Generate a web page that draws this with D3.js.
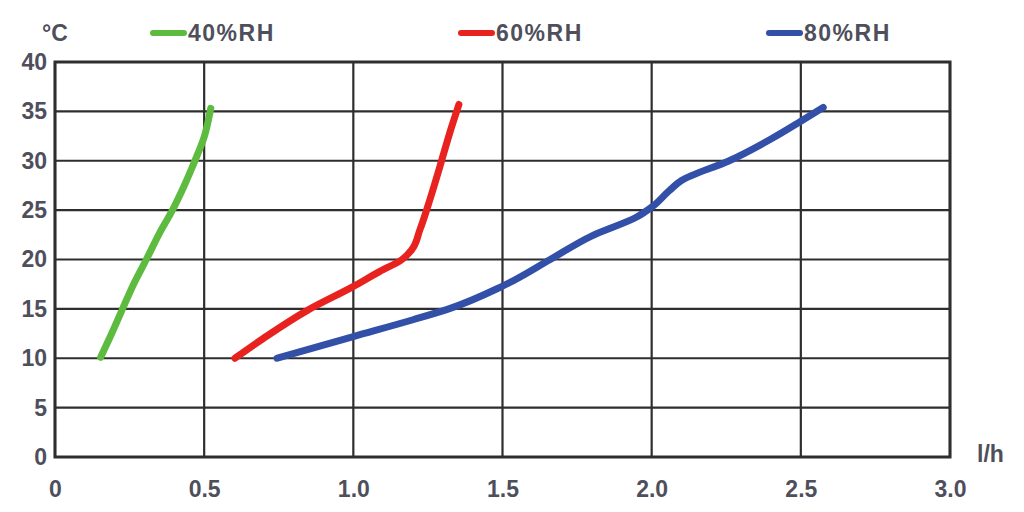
<!DOCTYPE html>
<html><head><meta charset="utf-8">
<script src="https://cdn.jsdelivr.net/npm/d3@7"></script>
<style>body{margin:0;background:#fff}svg{display:block}</style>
</head><body>
<svg id="c" width="1024" height="512"></svg>
<script>
const xTicks = [0, 0.5, 1.0, 1.5, 2.0, 2.5, 3.0];
const xTickLabels = ["0", "0.5", "1.0", "1.5", "2.0", "2.5", "3.0"];
const yTicks = [0, 5, 10, 15, 20, 25, 30, 35, 40];
const seriesNames = ["40%RH", "60%RH", "80%RH"];
const seriesColors = ["#5dbb3f", "#e8221e", "#3350a8"];
const rh40 = [[0.153,10.1],[0.19,12.5],[0.225,14.9],[0.265,17.6],[0.307,20.05],[0.350,22.65],[0.391,24.85],[0.432,27.4],[0.469,30.0],[0.500,32.4],[0.522,35.3]];
const rh60 = [[0.603,10.0],[0.698,12.0],[0.849,14.9],[0.999,17.25],[1.089,18.8],[1.161,19.95],[1.195,20.96],[1.223,23.0],[1.256,26.0],[1.290,29.4],[1.323,32.8],[1.354,35.7]];
const rh80 = [[0.744,10.0],[1.0,12.2],[1.2,13.9],[1.32,15.0],[1.5,17.3],[1.66,20.0],[1.8,22.4],[1.95,24.3],[2.0,25.3],[2.06,27.0],[2.1,28.0],[2.26,30.0],[2.4,32.2],[2.5,34.0],[2.575,35.4]];
const seriesData = [rh40, rh60, rh80];

const svg = d3.select("#c");
const x = d3.scaleLinear().domain([0, 3]).range([55, 950]);
const y = d3.scaleLinear().domain([0, 40]).range([457, 62]);
const txtCol = "#4f4f5c";
const font = "'Liberation Sans', Arial, sans-serif";
const fs = 23;

// grid
svg.append("g").selectAll("line.v").data(xTicks).join("line")
  .attr("x1", d => x(d)).attr("x2", d => x(d)).attr("y1", y(0)).attr("y2", y(40))
  .attr("stroke", "#2e2e2e").attr("stroke-width", 2.2);
svg.append("g").selectAll("line.h").data(yTicks).join("line")
  .attr("x1", x(0)).attr("x2", x(3)).attr("y1", d => y(d)).attr("y2", d => y(d))
  .attr("stroke", "#2e2e2e").attr("stroke-width", 2.2);
// border
svg.append("rect").attr("x", x(0)).attr("y", y(40)).attr("width", x(3) - x(0)).attr("height", y(0) - y(40))
  .attr("fill", "none").attr("stroke", "#2e2e2e").attr("stroke-width", 3);

// axes labels
const xAxis = d3.axisBottom(x).tickValues(xTicks).tickFormat((d, i) => xTickLabels[i]).tickSize(0).tickPadding(24);
const gx = svg.append("g").attr("transform", `translate(0,${y(0)})`).call(xAxis);
gx.select(".domain").remove();
gx.selectAll("text").attr("font-family", font).attr("font-size", fs).attr("font-weight", "bold").attr("fill", txtCol);

const yAxis = d3.axisLeft(y).tickValues(yTicks).tickFormat(d3.format("d")).tickSize(0).tickPadding(8);
const gy = svg.append("g").attr("transform", `translate(${x(0)},0)`).call(yAxis);
gy.select(".domain").remove();
gy.selectAll("text").attr("font-family", font).attr("font-size", fs).attr("font-weight", "bold").attr("fill", txtCol);

svg.append("text").attr("x", 42).attr("y", 41).text("°C")
  .attr("font-family", font).attr("font-size", fs).attr("font-weight", "bold").attr("fill", txtCol);
svg.append("text").attr("x", 977).attr("y", 462).text("l/h")
  .attr("font-family", font).attr("font-size", fs).attr("font-weight", "bold").attr("fill", txtCol);

// lines
const line = d3.line().x(d => x(d[0])).y(d => y(d[1])).curve(d3.curveMonotoneY);
svg.append("g").selectAll("path").data(seriesData).join("path")
  .attr("d", line).attr("fill", "none")
  .attr("stroke", (d, i) => seriesColors[i]).attr("stroke-width", 7)
  .attr("stroke-linecap", "round").attr("stroke-linejoin", "round");

// legend
const legendX = [153, 461, 769];
const lg = svg.append("g").selectAll("g").data(seriesNames).join("g")
  .attr("transform", (d, i) => `translate(${legendX[i]},33)`);
lg.append("line").attr("x1", 0).attr("x2", 31).attr("y1", 0).attr("y2", 0)
  .attr("stroke", (d, i) => seriesColors[i]).attr("stroke-width", 6).attr("stroke-linecap", "round");
lg.append("text").attr("x", 35).attr("y", 8).text(d => d)
  .attr("font-family", font).attr("font-size", fs).attr("font-weight", "bold").attr("letter-spacing", 1.5).attr("fill", txtCol);
</script>
</body></html>
